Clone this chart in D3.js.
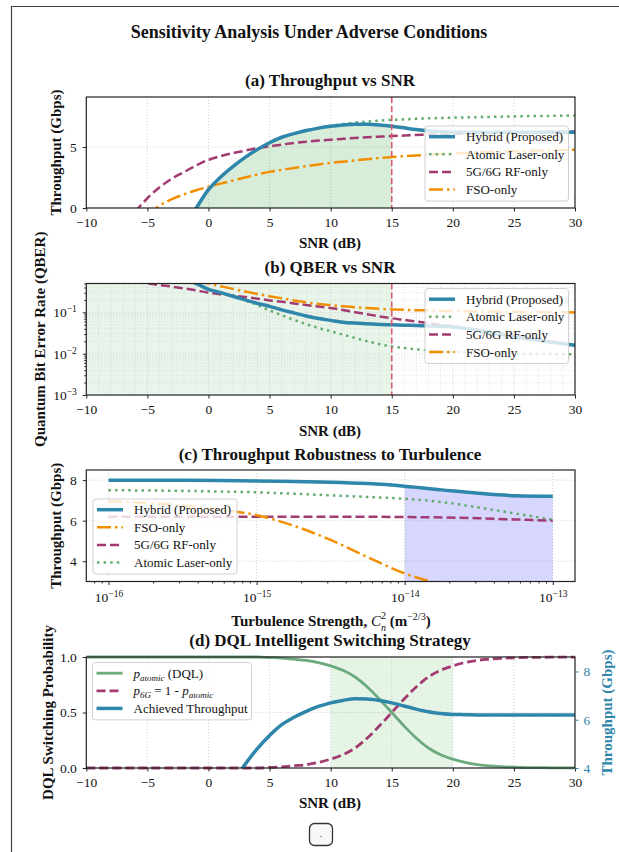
<!DOCTYPE html>
<html>
<head>
<meta charset="utf-8">
<script src="https://cdn.jsdelivr.net/npm/d3@7"></script>
<style>
  body { margin: 0; background: #fff; }
  text { font-family: "Liberation Serif", "Times New Roman", serif; }
</style>
</head>
<body>
<div class="container"></div>
<script>
// ---- values ----
const snr = [-10, -9, -8, -7, -6, -5, -4, -3, -2, -1, 0, 1, 2, 3, 4, 5, 6, 7, 8, 9, 10,
  11, 12, 13, 14, 15, 16, 17, 18, 19, 20, 21, 22, 23, 24, 25, 26, 27, 28, 29, 30];
const snrTicks = [-10, -5, 0, 5, 10, 15, 20, 25, 30];

// (a) throughput vs SNR (Gbps)
const hybridTput = [null, null, null, null, null, null, null, null,
  -1.6, 0, 1.5, 2.55, 3.4, 4.15, 4.8, 5.35, 5.8, 6.1, 6.35, 6.55, 6.7, 6.8, 6.87, 6.86, 6.8, 6.7,
  6.57, 6.44, 6.33, 6.26, 6.22, 6.21, 6.2, 6.2, 6.2, 6.2, 6.2, 6.2, 6.2, 6.2, 6.2];
const atomicTput = [null, null, null, null, null, null, null, null,
  -1.6, 0, 1.5, 2.55, 3.4, 4.15, 4.8, 5.35, 5.8, 6.1, 6.35, 6.55, 6.72, 6.88, 7.0, 7.08, 7.16, 7.22,
  7.27, 7.31, 7.35, 7.38, 7.41, 7.43, 7.45, 7.47, 7.49, 7.51, 7.53, 7.54, 7.55, 7.57, 7.58];
const rfTput = [null, null, null, null,
  -0.3, 0.8, 1.7, 2.4, 2.95, 3.5, 3.95, 4.25, 4.5, 4.7, 4.9, 5.05, 5.2, 5.33, 5.44, 5.53, 5.6,
  5.67, 5.74, 5.8, 5.85, 5.9, 5.94, 5.98, 6.02, 6.05, 6.08, 6.1, 6.13, 6.15, 6.17, 6.19, 6.21,
  6.23, 6.25, 6.27, 6.28];
const fsoTput = [null, null, null, null, null,
  -0.6, 0.2, 0.72, 1.12, 1.45, 1.74, 2.0, 2.25, 2.5, 2.75, 2.96, 3.13, 3.28, 3.43, 3.57, 3.7,
  3.8, 3.9, 4.0, 4.1, 4.18, 4.25, 4.31, 4.37, 4.42, 4.47, 4.51, 4.55, 4.59, 4.62, 4.65, 4.68,
  4.71, 4.74, 4.76, 4.78];

// (b) QBER vs SNR
const hybridQber = [null, null, null, null, null, null, null, null,
  0.62, 0.5, 0.36, 0.3, 0.245, 0.2, 0.165, 0.14, 0.115, 0.097, 0.082, 0.071, 0.064, 0.058, 0.055,
  0.053, 0.051, 0.05, 0.049, 0.048, 0.047, 0.046, 0.044, 0.041, 0.037, 0.033, 0.029, 0.026,
  0.023, 0.021, 0.019, 0.0175, 0.016];
const atomicQber = [null, null, null, null, null, null, null, null,
  0.62, 0.5, 0.36, 0.3, 0.245, 0.195, 0.15, 0.112, 0.085, 0.066, 0.052, 0.042, 0.035, 0.029, 0.024,
  0.02, 0.017, 0.015, 0.0138, 0.0128, 0.012, 0.0115, 0.0111, 0.0108, 0.0106, 0.0104, 0.0102,
  0.0101, 0.01, 0.0099, 0.0098, 0.0097, 0.0096];
const rfQber = [null, null, null, null,
  0.55, 0.5, 0.46, 0.42, 0.38, 0.34, 0.3, 0.275, 0.255, 0.235, 0.215, 0.195, 0.18, 0.165, 0.15,
  0.138, 0.127, 0.114, 0.101, 0.09, 0.08, 0.072, 0.066, 0.06, 0.055, 0.05, 0.046, 0.042, 0.038,
  0.034, 0.031, 0.028, 0.025, 0.022, 0.02, 0.018, 0.016];
const fsoQber = [null, null, null, null, null, null, null, null, null,
  0.58, 0.5, 0.43, 0.37, 0.32, 0.28, 0.245, 0.22, 0.195, 0.175, 0.16, 0.15, 0.14, 0.133, 0.127,
  0.122, 0.118, 0.115, 0.113, 0.111, 0.109, 0.108, 0.107, 0.106, 0.105, 0.104, 0.103, 0.102,
  0.1015, 0.101, 0.1005, 0.1];

// (c) throughput vs turbulence strength Cn2
const cn2 = [1e-16, 1.78e-16, 3.16e-16, 5.62e-16, 1e-15, 1.78e-15, 3.16e-15, 5.62e-15,
  1e-14, 1.78e-14, 3.16e-14, 5.62e-14, 1e-13];
const cn2Ticks = [1e-16, 1e-15, 1e-14, 1e-13];
const hybridTurb = [8.0, 8.0, 7.99, 7.98, 7.96, 7.93, 7.9, 7.83, 7.7, 7.52, 7.35, 7.23, 7.2];
const fsoTurb = [6.95, 6.88, 6.75, 6.55, 6.27, 5.75, 5.05, 4.2, 3.4, 2.85, 2.4, 2.1, 1.9];
const rfTurb = [6.2, 6.2, 6.2, 6.2, 6.2, 6.2, 6.19, 6.19, 6.18, 6.16, 6.12, 6.06, 6.0];
const atomicTurb = [7.5, 7.49, 7.47, 7.44, 7.4, 7.33, 7.25, 7.17, 7.08, 6.92, 6.65, 6.35, 6.05];

// (d) DQL switching probabilities
const pAtomic = [1, 1, 1, 1, 1, 1, 1, 1, 1, 1, 1, 1, 1, 1, 1,
  0.995, 0.99, 0.98, 0.97, 0.95, 0.92, 0.88, 0.82, 0.73, 0.62, 0.5, 0.38, 0.27, 0.18, 0.12, 0.08,
  0.05, 0.03, 0.02, 0.012, 0.007, 0.004, 0.003, 0.002, 0.001, 0.001];
const p6G = [0, 0, 0, 0, 0, 0, 0, 0, 0, 0, 0, 0, 0, 0, 0,
  0.005, 0.01, 0.02, 0.03, 0.05, 0.08, 0.12, 0.18, 0.27, 0.38, 0.5, 0.62, 0.73, 0.82, 0.88, 0.92,
  0.95, 0.97, 0.98, 0.988, 0.993, 0.996, 0.997, 0.998, 0.999, 0.999];

// ---- page ----
const W = 619, H = 852;
const left = 86.3, right = 575;
const SERIF = '"Liberation Serif", "Times New Roman", serif';
const INK = "#111";
const cHyb = "#2E86AB", cAtom = "#62ad6e", cRF = "#A23B72", cFSO = "#F18F01", cP = "#6aaa7c";

var svg = d3.select(".container").append("svg").attr("width", W).attr("height", H);
svg.append("rect").attr("width", W).attr("height", H).attr("fill", "#fff");
svg.append("path").attr("d", "M11.5,852 V6.5 H619").attr("fill", "none")
  .attr("stroke", "#444").attr("stroke-width", 1.2);

svg.append("text").attr("x", 309).attr("y", 38).attr("text-anchor", "middle")
  .attr("font-weight", "bold").attr("font-size", "18px").attr("fill", INK)
  .text("Sensitivity Analysis Under Adverse Conditions");

let xS = d3.scaleLinear().domain([-10, 30]).range([left, right]);
let intFmt = d3.format("d");

let clipN = 0;
let clipGroup = (top, bottom) => {
  let id = "clip" + (clipN++);
  svg.append("clipPath").attr("id", id).append("rect")
    .attr("x", left).attr("y", top).attr("width", right - left).attr("height", bottom - top);
  return svg.append("g").attr("clip-path", "url(#" + id + ")");
};

let frame = (top, bottom) => {
  svg.append("rect").attr("x", left).attr("y", top).attr("width", right - left)
    .attr("height", bottom - top).attr("fill", "none").attr("stroke", "#222").attr("stroke-width", 1.2);
};

let vGrid = (g, vals, x, top, bottom, w) => {
  g.selectAll(null).data(vals).enter().append("line")
    .attr("x1", (d) => x(d)).attr("x2", (d) => x(d)).attr("y1", top).attr("y2", bottom)
    .attr("stroke", "#c4c4c4").attr("stroke-width", w || 0.8).attr("stroke-dasharray", "1,2");
};
let hGrid = (g, vals, y, w) => {
  g.selectAll(null).data(vals).enter().append("line")
    .attr("x1", left).attr("x2", right).attr("y1", (d) => y(d)).attr("y2", (d) => y(d))
    .attr("stroke", "#c4c4c4").attr("stroke-width", w || 0.8).attr("stroke-dasharray", "1,2");
};

let styleAxis = (g, color) => {
  g.attr("font-family", SERIF).attr("font-size", 13.5);
  g.select(".domain").remove();
  g.selectAll(".tick line").attr("stroke", color || "#222");
  g.selectAll(".tick text").attr("fill", color || INK);
};

let powLabels = (g) => {
  g.selectAll(".tick text").each(function (d) {
    let t = d3.select(this);
    let e = Math.round(Math.log10(d));
    t.text(null);
    t.append("tspan").text("10");
    t.append("tspan").attr("dy", "-0.5em").attr("font-size", "9.5px").text("\u2212" + (-e));
  });
};

let drawLine = (g, xs, ys, x, y, st) => {
  let line = d3.line().defined((d) => d[1] != null)
    .x((d) => x(d[0])).y((d) => y(d[1])).curve(d3.curveMonotoneX);
  g.append("path").attr("d", line(d3.zip(xs, ys))).attr("fill", "none")
    .attr("stroke", st.color).attr("stroke-width", st.width)
    .attr("stroke-dasharray", st.dash).attr("stroke-linejoin", "round");
};

let legend = (x, y, w, items) => {
  let h = 10.7 + (items.length - 1) * 17.6 + 11.5;
  svg.append("rect").attr("x", x).attr("y", y).attr("width", w).attr("height", h).attr("rx", 3)
    .attr("fill", "#fff").attr("fill-opacity", 0.8).attr("stroke", "#d0d0d0").attr("stroke-width", 1);
  items.forEach((it, i) => {
    let cy = y + 10.7 + i * 17.6;
    svg.append("line").attr("x1", x + 4).attr("x2", x + 30).attr("y1", cy).attr("y2", cy)
      .attr("stroke", it.st.color).attr("stroke-width", it.st.width).attr("stroke-dasharray", it.st.dash);
    let t = svg.append("text").attr("x", x + 41).attr("y", cy + 4.5)
      .attr("font-size", "13px").attr("fill", INK);
    if (typeof it.label === "function") it.label(t);
    else t.text(it.label);
  });
};

let title = (txt, y) => {
  svg.append("text").attr("x", 330).attr("y", y).attr("text-anchor", "middle")
    .attr("font-weight", "bold").attr("font-size", "17px").attr("fill", INK).text(txt);
};
let xLabel = (txt, y) => {
  svg.append("text").attr("x", 330).attr("y", y).attr("text-anchor", "middle")
    .attr("font-weight", "bold").attr("font-size", "15px").attr("fill", INK).text(txt);
};
let yLabel = (txt, x, cy, color) => {
  svg.append("text").attr("transform", "translate(" + x + "," + cy + ") rotate(-90)")
    .attr("text-anchor", "middle").attr("font-weight", "bold").attr("font-size", "15px")
    .attr("fill", color || INK).text(txt);
};

const sHyb = { color: cHyb, width: 3.5, dash: null };
const sAtom = { color: cAtom, width: 2.5, dash: "2.5,4.1" };
const sRF = { color: cRF, width: 2.5, dash: "9,4" };
const sFSO = { color: cFSO, width: 2.5, dash: "14,4,2.5,4" };

// ---------- (a) Throughput vs SNR ----------
let aTop = 97, aBot = 208;
let ya = d3.scaleLinear().domain([0, 9.1]).range([aBot, aTop]);
title("(a) Throughput vs SNR", 86);
let ga = clipGroup(aTop, aBot);
vGrid(ga, snrTicks, xS, aTop, aBot);
hGrid(ga, [0, 5], ya);
let areaA = d3.area().defined((d) => d[1] != null && d[0] >= -1 && d[0] <= 15)
  .x((d) => xS(d[0])).y0(ya(0)).y1((d) => ya(d[1])).curve(d3.curveMonotoneX);
ga.append("path").attr("d", areaA(d3.zip(snr, hybridTput))).attr("fill", "#4caf50").attr("fill-opacity", 0.22);
drawLine(ga, snr, atomicTput, xS, ya, sAtom);
drawLine(ga, snr, rfTput, xS, ya, sRF);
drawLine(ga, snr, fsoTput, xS, ya, sFSO);
drawLine(ga, snr, hybridTput, xS, ya, sHyb);
ga.append("line").attr("x1", xS(15)).attr("x2", xS(15)).attr("y1", aTop).attr("y2", aBot)
  .attr("stroke", "#dc5a6e").attr("stroke-width", 1.6).attr("stroke-dasharray", "6,3");
frame(aTop, aBot);
svg.append("g").attr("transform", "translate(0," + aBot + ")")
  .call(d3.axisBottom(xS).tickValues(snrTicks).tickSize(3.5).tickPadding(5.5)).call((g) => styleAxis(g));
svg.append("g").attr("transform", "translate(" + left + ",0)")
  .call(d3.axisLeft(ya).tickValues([0, 5]).tickFormat(intFmt).tickSize(3.5).tickPadding(6))
  .call((g) => styleAxis(g));
xLabel("SNR (dB)", 248);
yLabel("Throughput (Gbps)", 61, (aTop + aBot) / 2);
legend(425, 126, 143.5, [
  { st: sHyb, label: "Hybrid (Proposed)" },
  { st: sAtom, label: "Atomic Laser-only" },
  { st: sRF, label: "5G/6G RF-only" },
  { st: sFSO, label: "FSO-only" }
]);

// ---------- (b) QBER vs SNR ----------
let bTop = 283.5, bBot = 395;
let yb = d3.scaleLog().domain([1e-3, 0.5]).range([bBot, bTop]);
title("(b) QBER vs SNR", 272.5);
let gb = clipGroup(bTop, bBot);
let bMinorY = [];
[1e-3, 1e-2, 1e-1].forEach((p) => { for (let k = 2; k <= 9; k++) bMinorY.push(p * k); });
let bMinorX = snr.filter((s) => snrTicks.indexOf(s) < 0);
gb.append("rect").attr("x", xS(-10)).attr("y", bTop).attr("width", xS(15) - xS(-10))
  .attr("height", bBot - bTop).attr("fill", "#4caf50").attr("fill-opacity", 0.12);
vGrid(gb, bMinorX, xS, bTop, bBot, 0.5);
hGrid(gb, bMinorY, yb, 0.5);
vGrid(gb, snrTicks, xS, bTop, bBot);
hGrid(gb, [1e-3, 1e-2, 1e-1], yb);
drawLine(gb, snr, atomicQber, xS, yb, sAtom);
drawLine(gb, snr, rfQber, xS, yb, sRF);
drawLine(gb, snr, fsoQber, xS, yb, sFSO);
drawLine(gb, snr, hybridQber, xS, yb, sHyb);
gb.append("line").attr("x1", xS(15)).attr("x2", xS(15)).attr("y1", bTop).attr("y2", bBot)
  .attr("stroke", "#dc5a6e").attr("stroke-width", 1.6).attr("stroke-dasharray", "6,3");
frame(bTop, bBot);
svg.append("g").attr("transform", "translate(0," + bBot + ")")
  .call(d3.axisBottom(xS).tickValues(snrTicks).tickSize(3.5).tickPadding(5.5)).call((g) => styleAxis(g));
svg.append("g").attr("transform", "translate(" + left + ",0)")
  .call(d3.axisLeft(yb).tickValues([1e-3, 1e-2, 1e-1]).tickSize(3.5).tickPadding(6))
  .call((g) => { styleAxis(g); powLabels(g); });
svg.append("g").attr("transform", "translate(" + left + ",0)")
  .call(d3.axisLeft(yb).tickValues(bMinorY.filter((v) => v <= 0.5)).tickSize(2).tickFormat(""))
  .call((g) => styleAxis(g));
xLabel("SNR (dB)", 435.5);
yLabel("Quantum Bit Error Rate (QBER)", 45, (bTop + bBot) / 2);
legend(425, 288.5, 143.5, [
  { st: sHyb, label: "Hybrid (Proposed)" },
  { st: sAtom, label: "Atomic Laser-only" },
  { st: sRF, label: "5G/6G RF-only" },
  { st: sFSO, label: "FSO-only" }
]);

// ---------- (c) Throughput vs turbulence ----------
let cTop = 470, cBot = 581.5;
let xc = d3.scaleLog().domain([Math.pow(10, -16.15), Math.pow(10, -12.85)]).range([left, right]);
let yc = d3.scaleLinear().domain([3, 8.5]).range([cBot, cTop]);
title("(c) Throughput Robustness to Turbulence", 460);
let gc = clipGroup(cTop, cBot);
vGrid(gc, cn2Ticks, xc, cTop, cBot);
hGrid(gc, [4, 6, 8], yc);
let areaC = d3.area().defined((d) => d[0] >= 1e-14)
  .x((d) => xc(d[0])).y0(cBot).y1((d) => yc(d[1])).curve(d3.curveMonotoneX);
gc.append("path").attr("d", areaC(d3.zip(cn2, hybridTurb))).attr("fill", "#3333ff").attr("fill-opacity", 0.2);
drawLine(gc, cn2, atomicTurb, xc, yc, sAtom);
drawLine(gc, cn2, rfTurb, xc, yc, sRF);
drawLine(gc, cn2, fsoTurb, xc, yc, sFSO);
drawLine(gc, cn2, hybridTurb, xc, yc, sHyb);
frame(cTop, cBot);
let cMinor = [];
[1e-17, 1e-16, 1e-15, 1e-14].forEach((p) => { for (let k = 2; k <= 9; k++) cMinor.push(p * k); });
cMinor = cMinor.filter((v) => v > xc.domain()[0] && v < xc.domain()[1]);
svg.append("g").attr("transform", "translate(0," + cBot + ")")
  .call(d3.axisBottom(xc).tickValues(cn2Ticks).tickSize(3.5).tickPadding(7.5))
  .call((g) => { styleAxis(g); powLabels(g); });
svg.append("g").attr("transform", "translate(0," + cBot + ")")
  .call(d3.axisBottom(xc).tickValues(cMinor).tickSize(2).tickFormat(""))
  .call((g) => styleAxis(g));
svg.append("g").attr("transform", "translate(" + left + ",0)")
  .call(d3.axisLeft(yc).tickValues([4, 6, 8]).tickFormat(intFmt).tickSize(3.5).tickPadding(6))
  .call((g) => styleAxis(g));
let xlc = svg.append("text").attr("x", 331).attr("y", 626).attr("text-anchor", "middle")
  .attr("font-weight", "bold").attr("font-size", "15px").attr("fill", INK);
xlc.append("tspan").text("Turbulence Strength, ");
xlc.append("tspan").attr("font-style", "italic").attr("font-weight", "normal").text("C");
xlc.append("tspan").attr("font-size", "10px").attr("font-weight", "normal").attr("dy", -7).text("2");
xlc.append("tspan").attr("font-size", "10px").attr("font-style", "italic").attr("font-weight", "normal")
  .attr("dx", -5).attr("dy", 11.5).text("n");
xlc.append("tspan").attr("dy", -4.5).text(" (m");
xlc.append("tspan").attr("font-size", "10px").attr("font-weight", "normal").attr("dy", -6).text("\u22122/3");
xlc.append("tspan").attr("dy", 6).text(")");
yLabel("Throughput (Gbps)", 61, (cTop + cBot) / 2);
legend(93, 499, 144, [
  { st: sHyb, label: "Hybrid (Proposed)" },
  { st: sFSO, label: "FSO-only" },
  { st: sRF, label: "5G/6G RF-only" },
  { st: sAtom, label: "Atomic Laser-only" }
]);

// ---------- (d) DQL switching ----------
let dTop = 657, dBot = 768;
let ydL = d3.scaleLinear().domain([0, 1]).range([dBot, dTop]);
let ydR = d3.scaleLinear().domain([4, 8.6]).range([dBot, dTop]);
title("(d) DQL Intelligent Switching Strategy", 646);
let gd = clipGroup(dTop - 2, dBot + 2);
vGrid(gd, snrTicks, xS, dTop, dBot);
hGrid(gd, [0, 0.5, 1], ydL);
gd.append("rect").attr("x", xS(10)).attr("y", dTop).attr("width", xS(20) - xS(10))
  .attr("height", dBot - dTop).attr("fill", "#4caf50").attr("fill-opacity", 0.14);
const sP = { color: cP, width: 2.8, dash: null };
const sP6 = { color: cRF, width: 2.8, dash: "9,4" };
const sThr = { color: cHyb, width: 3.5, dash: null };
drawLine(gd, snr, pAtomic, xS, ydL, sP);
drawLine(gd, snr, p6G, xS, ydL, sP6);
let gd2 = clipGroup(dTop, dBot);
drawLine(gd2, snr, hybridTput, xS, ydR, sThr);
frame(dTop, dBot);
svg.append("g").attr("transform", "translate(0," + dBot + ")")
  .call(d3.axisBottom(xS).tickValues(snrTicks).tickSize(3.5).tickPadding(5.5)).call((g) => styleAxis(g));
svg.append("g").attr("transform", "translate(" + left + ",0)")
  .call(d3.axisLeft(ydL).tickValues([0, 0.5, 1]).tickFormat(d3.format(".1f")).tickSize(3.5).tickPadding(6))
  .call((g) => styleAxis(g));
svg.append("g").attr("transform", "translate(" + right + ",0)")
  .call(d3.axisRight(ydR).tickValues([4, 6, 8]).tickFormat(intFmt).tickSize(3.5).tickPadding(5))
  .call((g) => styleAxis(g, cHyb));
xLabel("SNR (dB)", 808);
yLabel("DQL Switching Probability", 53, (dTop + dBot) / 2);
yLabel("Throughput (Gbps)", 612, (dTop + dBot) / 2, cHyb);
let pSub = (t, sub) => {
  t.append("tspan").attr("font-style", "italic").text("p");
  t.append("tspan").attr("font-style", "italic").attr("font-size", "9px").attr("dy", 3).text(sub);
};
legend(92.5, 662.5, 159, [
  { st: sP, label: (t) => { pSub(t, "atomic"); t.append("tspan").attr("dy", -3).text(" (DQL)"); } },
  { st: sP6, label: (t) => {
      pSub(t, "6G");
      t.append("tspan").attr("dy", -3).text(" = 1 - ");
      pSub(t, "atomic");
    } },
  { st: sThr, label: "Achieved Throughput" }
]);

// small widget box at the bottom
svg.append("rect").attr("x", 309.5).attr("y", 823.5).attr("width", 23).attr("height", 22).attr("rx", 5)
  .attr("fill", "#f8f8f8").attr("stroke", "#333").attr("stroke-width", 1.3);
svg.append("text").attr("x", 321).attr("y", 837).attr("text-anchor", "middle")
  .attr("font-size", "10px").attr("fill", "#333").text(".");
</script>
</body>
</html>
